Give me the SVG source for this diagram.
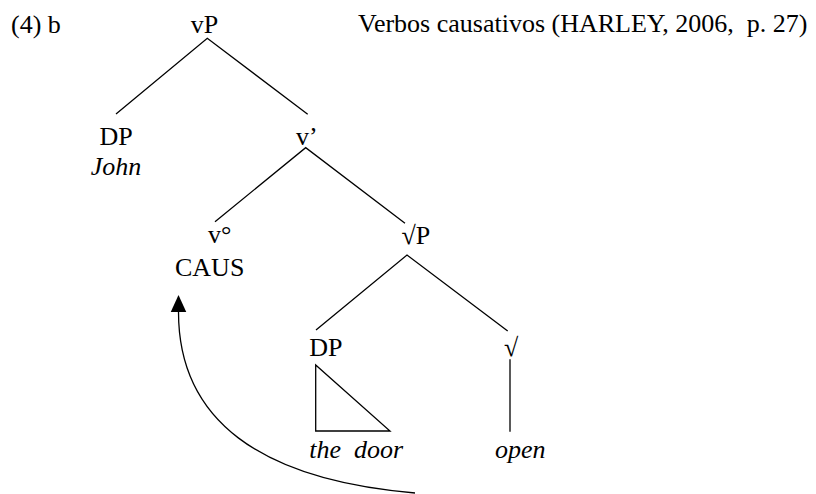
<svg xmlns="http://www.w3.org/2000/svg" width="816" height="494" viewBox="0 0 816 494">
<style>
text{font-family:"Liberation Serif","Times New Roman",serif;font-size:26px;fill:#000;white-space:pre}
.it{font-style:italic}
.ln{stroke:#000;stroke-width:1.3;fill:none}
</style>
<defs>
<marker id="ah" markerUnits="userSpaceOnUse" markerWidth="18" markerHeight="18" viewBox="0 -9 18 18" refX="0" refY="0" orient="auto-start-reverse">
<path d="M0,-7.75 L17,0 L0,7.75 z" fill="#000"/>
</marker>
</defs>
<rect width="816" height="494" fill="#fff"/>
<g id="labels">
<text x="11" y="33">(4) b</text>
<text x="358" y="32" xml:space="preserve">Verbos causativos (HARLEY, 2006,  p. 27)</text>
</g>
<g id="vP"><text x="204.5" y="33" text-anchor="middle">vP</text></g>
<g id="DP-John"><text x="116" y="145" text-anchor="middle">DP</text><text class="it" x="116" y="175" text-anchor="middle">John</text></g>
<g id="vbar"><text x="296" y="145">v’</text></g>
<g id="v0"><text x="208" y="243">v°</text><text x="175" y="275.5">CAUS</text></g>
<g id="rootP"><text x="401.5" y="244">√P</text></g>
<g id="DP-door"><text x="309.3" y="356">DP</text><text class="it" x="309.3" y="458" xml:space="preserve">the  door</text></g>
<g id="root"><text x="504" y="356">√</text><text class="it" x="495" y="458">open</text></g>
<g id="connectors" class="ln">
<path d="M116,114 L207.3,38.3 L307.7,114.3"/>
<path d="M215,221.7 L305.7,147.7 L405,223.3"/>
<path d="M316,330 L407,255 L507.7,331"/>
<path d="M510,359.3 L510,431.7"/>
<path d="M315.7,365 L315.7,431 L390,431 Z"/>
<path d="M178.5,312 C178.5,420 260,480 415,493" marker-start="url(#ah)"/>
</g>
</svg>
